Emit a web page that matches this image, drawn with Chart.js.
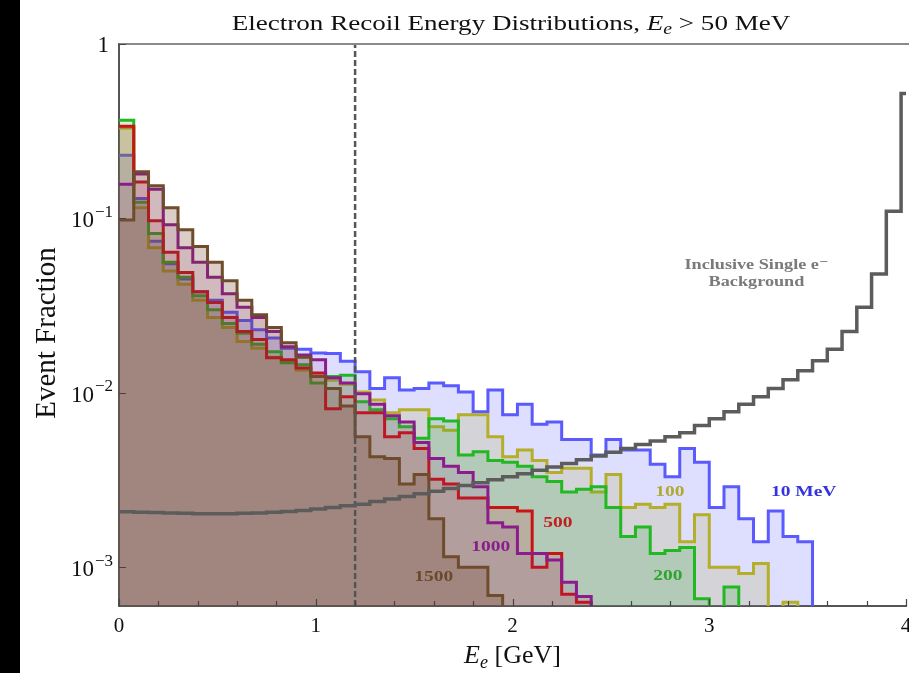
<!DOCTYPE html>
<html>
<head>
<meta charset="utf-8">
<script src="https://cdn.jsdelivr.net/npm/chart.js@4.4.1/dist/chart.umd.min.js"></script>
<style>
  body { margin: 0; background: #fff; }
  #wrap { position: relative; width: 909px; height: 673px; }
  #edge { position: absolute; left: 0; top: 0; width: 20px; height: 673px; background: #000; }
</style>
</head>
<body>
<div id="wrap">
  <canvas id="recoilChart" width="909" height="673"></canvas>
  <div id="edge"></div>
</div>
<script>
// histogram bins: 0.075 GeV wide, starting at 0
var BIN_WIDTH = 0.075;
var EMPTY = 1e-6; // empty bins are drawn below the axis floor

var xMin = 0, xMax = 4;
var yMin = 6e-4, yMax = 1;
var xMajorTicks = [0, 1, 2, 3, 4];
var yTicks = [1e-3, 1e-2, 1e-1, 1];
var yTickExponents = ['−3', '−2', '−1', ''];
var cutEnergy = 1.2; // GeV

var mass10 = [0.23, 0.13, 0.074, 0.055, 0.045, 0.038, 0.034, 0.029, 0.026, 0.023,
  0.0206, 0.018, 0.0178, 0.0169, 0.0168, 0.0152, 0.0132, 0.0106, 0.0122, 0.0104,
  0.0106, 0.0114, 0.011, 0.0101, 0.0078, 0.0104, 0.0075, 0.0086, 0.0066, 0.0068,
  0.0054, 0.0054, 0.0044, 0.0054, 0.0047, 0.0047, 0.0039, 0.0033, 0.0048, 0.004,
  0.0022, 0.0029, 0.0019, 0.0014, 0.0021, 0.0015, 0.0014];
var mass100 = [0.33, 0.115, 0.068, 0.05, 0.042, 0.034, 0.027, 0.0237, 0.0197, 0.018,
  0.016, 0.0152, 0.0135, 0.0125, 0.0118, 0.0112, 0.0101, 0.0091, 0.0077, 0.008,
  0.008, 0.0064, 0.0061, 0.0075, 0.0075, 0.0056, 0.0043, 0.0047, 0.0041, 0.0035,
  0.0037, 0.0037, 0.0027, 0.0034, 0.0022, 0.0023, 0.0022, 0.0023, 0.0014, 0.002,
  0.001, 0.001, 0.00092, 0.00105, 0, 0.00063];
var mass200 = [0.365, 0.124, 0.082, 0.056, 0.046, 0.036, 0.03, 0.025, 0.022, 0.019,
  0.0172, 0.0149, 0.0145, 0.0114, 0.0124, 0.0126, 0.0089, 0.008, 0.0071, 0.0064,
  0.0055, 0.0071, 0.0069, 0.0044, 0.0046, 0.0041, 0.004, 0.0038, 0.0033, 0.0031,
  0.0027, 0.0028, 0.0029, 0.0022, 0.0015, 0.0017, 0.0012, 0.00125, 0.0013, 0.00066,
  0, 0.00077];
var mass500 = [0.338, 0.162, 0.097, 0.064, 0.049, 0.038, 0.033, 0.027, 0.0225, 0.0202,
  0.0159, 0.0155, 0.0139, 0.013, 0.0081, 0.0095, 0.0077, 0.0077, 0.0056, 0.0059,
  0.0048, 0.0032, 0.003, 0.0025, 0.0025, 0.0022, 0.0022, 0.0021, 0.001, 0.0012,
  0.0007, 0.00063];
var mass1000 = [0.157, 0.18, 0.147, 0.092, 0.068, 0.056, 0.046, 0.037, 0.031, 0.027,
  0.0225, 0.0184, 0.0165, 0.0155, 0.0122, 0.0114, 0.0099, 0.0086, 0.0074, 0.0068,
  0.0052, 0.0042, 0.0038, 0.0035, 0.0029, 0.0018, 0.0017, 0.0012, 0.0012, 0.0011,
  0.00082, 0.00068];
var mass1500 = [0.098, 0.185, 0.154, 0.115, 0.086, 0.069, 0.056, 0.044, 0.034, 0.028,
  0.0237, 0.0194, 0.016, 0.0124, 0.0106, 0.0084, 0.0056, 0.0043, 0.0042, 0.003,
  0.0034, 0.0019, 0.00115, 0.001, 0.001, 0.00069];
var inclusiveBkg = [0.00208, 0.00207, 0.00206, 0.00205, 0.00204, 0.00203, 0.00203, 0.00203, 0.00204, 0.00205,
  0.00207, 0.00209, 0.00212, 0.00216, 0.0022, 0.00225, 0.0023, 0.00238, 0.00246, 0.00255,
  0.00264, 0.00273, 0.00283, 0.00294, 0.00305, 0.00318, 0.0033, 0.00344, 0.0036, 0.00376,
  0.00394, 0.00413, 0.00434, 0.00456, 0.0048, 0.00506, 0.0053, 0.0056, 0.0059, 0.0065,
  0.0071, 0.0078, 0.0086, 0.0095, 0.0106, 0.0119, 0.0134, 0.0153, 0.0178, 0.0225,
  0.031, 0.048, 0.11, 0.52];

var SERIF = "'Liberation Serif', 'DejaVu Serif', serif";

function histPoints(values, closeToFloor) {
  var pts = values.map(function(v, i) {
    return { x: i * BIN_WIDTH, y: Math.max(v, EMPTY) };
  });
  var last = closeToFloor ? EMPTY : Math.max(values[values.length - 1], EMPTY);
  pts.push({ x: values.length * BIN_WIDTH, y: last });
  return pts;
}

function histDataset(values, line, fill) {
  return {
    data: histPoints(values, true),
    stepped: 'before',
    borderColor: line,
    backgroundColor: fill,
    borderWidth: 3,
    borderJoinStyle: 'miter',
    pointRadius: 0,
    fill: 'start',
    clip: 0
  };
}

// curve captions, in data coordinates
var captions = [
  { lines: ['Inclusive Single e\u207B', 'Background'], x: 3.24, y: 0.054, color: '#7a7a7a', size: 14 },
  { lines: ['10 MeV'], x: 3.48, y: 0.0027, color: '#3434dc', size: 15 },
  { lines: ['100'], x: 2.80, y: 0.0027, color: '#b0aa30', size: 15 },
  { lines: ['200'], x: 2.79, y: 0.00089, color: '#2fa52f', size: 15 },
  { lines: ['500'], x: 2.23, y: 0.0018, color: '#c02020', size: 15 },
  { lines: ['1000'], x: 1.89, y: 0.0013, color: '#8a1e8a', size: 15 },
  { lines: ['1500'], x: 1.60, y: 0.00088, color: '#6b4a2a', size: 15 }
];

// draws text pieces side by side, centred on cx, stretched sideways by sx
function drawRich(ctx, parts, cx, y, sx) {
  sx = sx || 1;
  var total = 0;
  parts.forEach(function(p) {
    ctx.font = p.font;
    p.w = ctx.measureText(p.text).width;
    total += p.w;
  });
  ctx.save();
  ctx.translate(cx, y);
  ctx.scale(sx, 1);
  var x = -total / 2;
  parts.forEach(function(p) {
    ctx.font = p.font;
    ctx.fillText(p.text, x, p.dy || 0);
    x += p.w;
  });
  ctx.restore();
}

var decorations = {
  id: 'decorations',
  afterDraw: function(chart) {
    var ctx = chart.ctx;
    var area = chart.chartArea;
    var xs = chart.scales.x, ys = chart.scales.y;
    ctx.save();

    // frame top
    ctx.strokeStyle = '#8a8a8a';
    ctx.lineWidth = 2;
    ctx.beginPath();
    ctx.moveTo(area.left, area.top);
    ctx.lineTo(area.right + 3, area.top);
    ctx.stroke();

    // inward ticks
    ctx.strokeStyle = '#444';
    ctx.lineWidth = 1.2;
    ctx.beginPath();
    for (var v = xMin; v <= xMax + 1e-9; v += 0.2) {
      var px = Math.round(xs.getPixelForValue(v)) + 0.5;
      var major = Math.abs(v - Math.round(v)) < 1e-6;
      ctx.moveTo(px, area.bottom);
      ctx.lineTo(px, area.bottom - (major ? 7 : 5));
    }
    yTicks.forEach(function(t) {
      var py = Math.round(ys.getPixelForValue(t)) + 0.5;
      ctx.moveTo(area.left, py);
      ctx.lineTo(area.left + 7, py);
    });
    ctx.stroke();

    // y tick labels with exponents
    ctx.fillStyle = '#111';
    ctx.textBaseline = 'middle';
    yTicks.forEach(function(t, i) {
      var py = ys.getPixelForValue(t);
      var right = area.left - 6;
      if (!yTickExponents[i]) {
        ctx.font = '23px ' + SERIF;
        ctx.textAlign = 'right';
        ctx.fillText('1', right - 4, py + 2);
        return;
      }
      ctx.textAlign = 'left';
      ctx.font = '17px ' + SERIF;
      var we = ctx.measureText(yTickExponents[i]).width;
      ctx.font = '23px ' + SERIF;
      var wb = ctx.measureText('10').width;
      var x0 = right - we - wb - 1;
      ctx.fillText('10', x0, py + 3);
      ctx.font = '17px ' + SERIF;
      ctx.fillText(yTickExponents[i], x0 + wb + 1, py - 6);
    });

    // title
    ctx.textAlign = 'left';
    ctx.textBaseline = 'alphabetic';
    ctx.fillStyle = '#111';
    drawRich(ctx, [
      { text: 'Electron Recoil Energy Distributions, ', font: '22px ' + SERIF },
      { text: 'E', font: 'italic 22px ' + SERIF },
      { text: 'e', font: 'italic 16px ' + SERIF, dy: 4 },
      { text: ' > 50 MeV', font: '22px ' + SERIF }
    ], 511, 30, 1.23);

    // x axis title
    drawRich(ctx, [
      { text: 'E', font: 'italic 26px ' + SERIF },
      { text: 'e', font: 'italic 18px ' + SERIF, dy: 5 },
      { text: ' [GeV]', font: '26px ' + SERIF }
    ], (area.left + area.right) / 2, 663);

    // y axis title
    ctx.save();
    ctx.translate(47, (area.top + area.bottom) / 2 + 8);
    ctx.rotate(-Math.PI / 2);
    ctx.textAlign = 'center';
    ctx.textBaseline = 'middle';
    ctx.font = '29px ' + SERIF;
    ctx.fillText('Event Fraction', 0, 0);
    ctx.restore();

    // curve captions
    ctx.textBaseline = 'middle';
    captions.forEach(function(c) {
      var cx = xs.getPixelForValue(c.x);
      var cy = ys.getPixelForValue(c.y);
      ctx.fillStyle = c.color;
      c.lines.forEach(function(line, k) {
        drawRich(ctx, [{ text: line, font: 'bold ' + c.size + 'px ' + SERIF }],
          cx, cy + k * (c.size + 3), 1.3);
      });
    });
    ctx.restore();
  }
};

var ctx = document.getElementById('recoilChart').getContext('2d');
new Chart(ctx, {
  type: 'line',
  data: {
    datasets: [
      {
        data: histPoints(inclusiveBkg, false),
        stepped: 'before',
        borderColor: '#5c5c5c',
        borderWidth: 3.5,
        borderJoinStyle: 'miter',
        pointRadius: 0,
        fill: false,
        clip: 0
      },
      {
        data: [{ x: cutEnergy, y: yMin }, { x: cutEnergy, y: yMax }],
        borderColor: '#555',
        borderWidth: 2.5,
        borderDash: [6, 3],
        pointRadius: 0,
        fill: false
      },
      histDataset(mass1500, '#6e4c2c', 'rgba(110,60,40,0.25)'),
      histDataset(mass1000, '#8c1c8c', 'rgba(140,30,140,0.12)'),
      histDataset(mass500, '#c81414', 'rgba(200,30,30,0.15)'),
      histDataset(mass200, '#22b822', 'rgba(40,160,40,0.18)'),
      histDataset(mass100, '#b4ae28', 'rgba(170,170,60,0.2)'),
      histDataset(mass10, '#5a5aff', 'rgba(80,80,255,0.19)')
    ]
  },
  options: {
    responsive: false,
    animation: false,
    layout: { padding: { top: 44, right: 3, left: 0, bottom: 0 } },
    plugins: {
      legend: { display: false },
      tooltip: { enabled: false }
    },
    scales: {
      x: {
        type: 'linear',
        min: xMin,
        max: xMax,
        afterFit: function(s) {
          s.height = 67;
          s.paddingLeft = 0;
          s.paddingRight = 0;
        },
        afterBuildTicks: function(s) {
          s.ticks = xMajorTicks.map(function(v) { return { value: v }; });
        },
        ticks: {
          font: { family: SERIF, size: 21 },
          color: '#111',
          padding: 8,
          maxRotation: 0
        },
        grid: { display: false, drawTicks: false },
        border: { color: '#555', width: 2 }
      },
      y: {
        type: 'logarithmic',
        min: yMin,
        max: yMax,
        afterFit: function(s) {
          s.width = 119;
          s.paddingTop = 0;
          s.paddingBottom = 0;
        },
        afterBuildTicks: function(s) {
          s.ticks = yTicks.map(function(v) { return { value: v }; });
        },
        ticks: { display: false },
        grid: { display: false, drawTicks: false },
        border: { color: '#555', width: 2 }
      }
    }
  },
  plugins: [decorations]
});
</script>
</body>
</html>
